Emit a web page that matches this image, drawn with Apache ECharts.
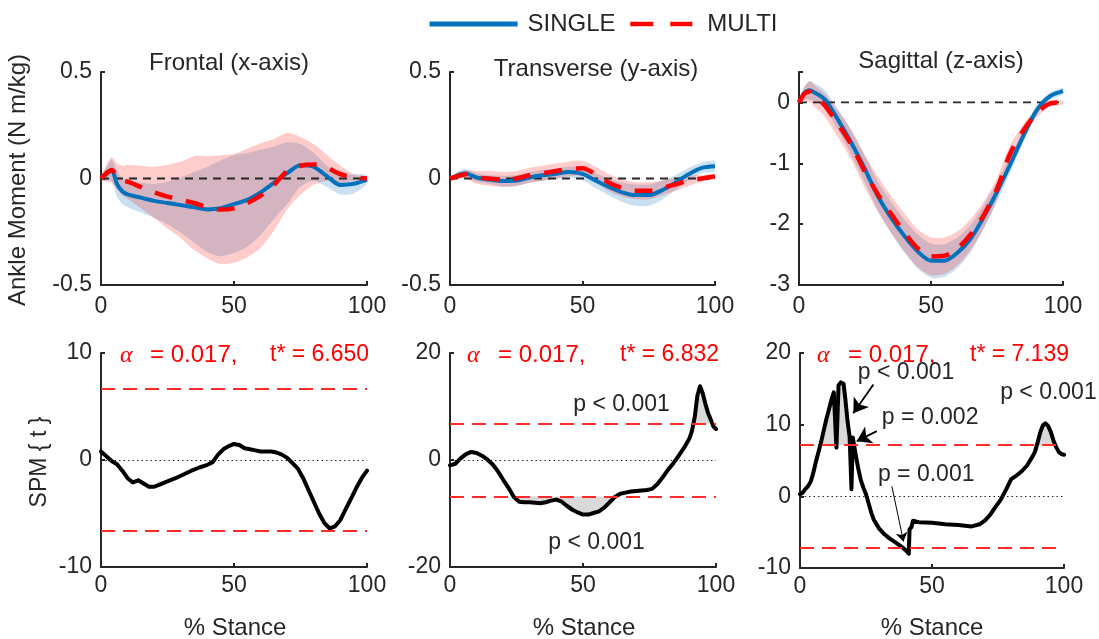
<!DOCTYPE html>
<html><head><meta charset="utf-8">
<script src="https://cdn.jsdelivr.net/npm/echarts@6/dist/echarts.min.js"></script>
<style>html,body{margin:0;padding:0;background:#fff}#c{width:1099px;height:639px}</style>
</head><body><div id="c"></div>
<script>
// ---------- data ----------
const stance = [0,2,4,6,8,10,15,20,25,30,35,40,45,50,55,60,65,70,75,80,85,90,95,100];

const frontalSingle   = [0,0.02,0.038,-0.025,-0.06,-0.075,-0.09,-0.105,-0.115,-0.125,-0.135,-0.145,-0.14,-0.12,-0.1,-0.065,-0.02,0.025,0.062,0.055,0.01,-0.03,-0.025,-0.005];
const frontalSingleSD = [0.01,0.03,0.05,0.06,0.06,0.06,0.07,0.08,0.1,0.13,0.165,0.2,0.225,0.23,0.22,0.2,0.17,0.145,0.1,0.065,0.05,0.045,0.045,0.02];
const frontalMulti    = [0,0.025,0.04,0.01,-0.01,-0.015,-0.04,-0.065,-0.085,-0.1,-0.115,-0.135,-0.146,-0.14,-0.115,-0.08,-0.03,0.035,0.06,0.066,0.05,0.02,0.005,0];
const frontalMultiSD  = [0,0.04,0.06,0.06,0.07,0.08,0.1,0.12,0.15,0.18,0.22,0.24,0.255,0.255,0.255,0.245,0.215,0.18,0.135,0.095,0.06,0.04,0.015,0.005];

const transSingle   = [0,0.01,0.02,0.023,0.015,0.005,-0.005,-0.012,-0.01,0.005,0.015,0.022,0.03,0.022,-0.01,-0.04,-0.065,-0.078,-0.078,-0.055,-0.02,0.02,0.05,0.058];
const transSingleSD = [0.01,0.015,0.02,0.02,0.02,0.02,0.02,0.025,0.025,0.025,0.025,0.025,0.025,0.03,0.035,0.04,0.045,0.05,0.05,0.045,0.035,0.03,0.025,0.025];
const transMulti    = [0,0.008,0.015,0.02,0.012,0.005,0,-0.005,0,0.015,0.025,0.035,0.045,0.048,0.02,-0.02,-0.045,-0.058,-0.058,-0.045,-0.028,-0.01,0,0.01];
const transMultiSD  = [0.005,0.01,0.015,0.02,0.025,0.03,0.035,0.035,0.035,0.035,0.035,0.035,0.035,0.035,0.035,0.04,0.04,0.04,0.04,0.035,0.03,0.025,0.015,0.01];

const sagSingle   = [0,0.15,0.2,0.16,0.11,0.04,-0.3,-0.68,-1.1,-1.55,-1.9,-2.2,-2.45,-2.6,-2.6,-2.47,-2.24,-1.88,-1.47,-1.02,-0.55,-0.13,0.1,0.185];
const sagSingleSD = [0.02,0.1,0.15,0.15,0.15,0.15,0.17,0.2,0.22,0.24,0.26,0.27,0.28,0.28,0.27,0.25,0.22,0.19,0.16,0.13,0.1,0.08,0.06,0.05];
const sagMulti    = [0,0.14,0.18,0.1,0.03,-0.06,-0.37,-0.71,-1.14,-1.52,-1.84,-2.14,-2.4,-2.53,-2.52,-2.4,-2.17,-1.85,-1.42,-0.84,-0.46,-0.18,-0.02,0];
const sagMultiSD  = [0.02,0.12,0.17,0.18,0.18,0.19,0.22,0.25,0.27,0.29,0.3,0.31,0.31,0.31,0.3,0.28,0.25,0.22,0.18,0.14,0.1,0.07,0.05,0.03];

const spmFrontalX = [0,2,4,6,8,10,12,14,16,18,20,22,25,28,31,34,37,40,42,44,46,48,50,52,54,56,58,60,62,64,66,68,70,72,74,76,78,80,82,84,86,88,90,92,94,96,98,100];
const spmFrontalT = [0.8,0.35,-0.1,-0.4,-1.0,-1.7,-2.1,-1.9,-2.2,-2.5,-2.5,-2.3,-2.0,-1.7,-1.35,-1.0,-0.7,-0.45,-0.2,0.5,1.0,1.3,1.5,1.4,1.1,1.0,0.9,0.8,0.8,0.8,0.7,0.5,0.2,-0.3,-0.8,-1.7,-2.8,-3.9,-5.0,-5.9,-6.4,-6.2,-5.6,-4.6,-3.6,-2.6,-1.7,-1.0];
const spmTransX = [0,2,4,6,8,10,12,14,16,18,20,22,24,26,28,30,32,34,36,38,40,42,44,46,48,50,52,54,56,58,60,62,64,66,68,70,72,74,76,78,80,82,84,86,88,90,91,92,93,94,95,96,97,98,99,100];
const spmTransT = [-1.0,-0.7,0.3,1.1,1.5,1.3,0.8,0.1,-0.8,-2.1,-3.7,-5.2,-6.9,-7.8,-7.9,-7.9,-8.0,-8.1,-7.9,-7.6,-7.4,-7.8,-8.6,-9.3,-9.8,-10.2,-10.2,-9.9,-9.6,-8.9,-7.9,-6.9,-6.3,-6.1,-5.9,-5.8,-5.7,-5.6,-5.4,-4.5,-3.2,-1.8,-0.6,0.8,2.3,4.0,5.5,8.0,12.0,13.8,12.5,10.5,8.8,7.6,6.3,5.8];
const spmSagX = [0,1,2,3,4,5,6,7,8,9,10,11,12,12.8,13.5,13.8,14.2,14.6,15.5,16.5,17.2,18.0,18.8,19.5,20.0,21,22,23,24,25,26,27,28,30,32,34,36,38,40,41.2,41.5,42.2,42.8,45,50,55,60,65,68,70,72,74,76,78,80,82,84,86,88,89,90,91,92,93,94,95,96,97,98,99,100];
const spmSagT = [0.3,0.5,1.0,1.4,2.0,3.2,4.8,6.2,7.6,9.2,10.8,12.2,13.6,14.5,14.6,6.8,6.8,15.5,15.9,15.7,13.5,10.5,8.3,1.0,8.2,6.0,4.0,2.3,1.2,0.3,-1.0,-2.3,-3.3,-4.5,-5.3,-5.9,-6.4,-6.9,-7.5,-8.0,-4.6,-4.3,-3.4,-3.6,-3.7,-3.9,-4.0,-4.2,-3.9,-3.4,-2.6,-1.5,-0.5,0.9,2.4,2.9,3.5,4.3,5.5,6.2,7.5,8.9,9.9,10.2,9.8,9.0,7.8,6.9,6.2,5.9,5.8];

const tStar = [6.650, 6.832, 7.139];
const alphaText = '= 0.017,';
const panelTitles = ['Frontal (x-axis)','Transverse (y-axis)','Sagittal (z-axis)'];
const seriesNames = ['SINGLE','MULTI'];
const xTicks = [0, 100, 50];                       // min, max, interval
const yTicks = [[-0.5,0.5,0.5],[-0.5,0.5,0.5],[-3,0.5,1],[-10,10,10],[-20,20,20],[-10,20,10]];
const transNotes = [{text:'p < 0.001', at:[64.5,10.3]},{text:'p < 0.001', at:[55.1,-15.5]}];
const sagNotes = [{text:'p < 0.001', at:[40.2,17.2]},{text:'p = 0.002', at:[49.3,11.0]},{text:'p = 0.001', at:[47.8,3.0]},{text:'p < 0.001', at:[94.1,14.5]}];
const sagArrows = [[[27.8,15.6],[20.2,11.6],1.8,14],[[29.1,9.1],[21.5,7.7],1.8,14],[[34.8,1.4],[39.2,-6.3],1,9]];

// ---------- layout / style ----------
const FONT = '"Liberation Sans", Arial, Helvetica, sans-serif';
const INK = '#262626';
const BLUE = '#0072BD', RED = '#FF0000';
const grids = [
  {left:101, top:72, width:266, height:213},
  {left:450, top:72, width:265, height:213},
  {left:799, top:72, width:264, height:213},
  {left:101, top:353, width:266, height:214},
  {left:450, top:353, width:266, height:214},
  {left:800, top:353, width:264, height:215}
];

const xAxis = grids.map((g,i)=>({
  type:'value', gridIndex:i, min:xTicks[0], max:xTicks[1], interval:xTicks[2],
  axisLine:{show:true,onZero:false,lineStyle:{color:INK,width:2}},
  axisTick:{show:true,inside:true,length:4,lineStyle:{color:INK,width:2}},
  axisLabel:{fontSize:23,color:INK,fontFamily:FONT,margin:i<3?10:7},
  splitLine:{show:false}
}));
const yAxis = grids.map((g,i)=>({
  type:'value', gridIndex:i, min:yTicks[i][0], max:yTicks[i][1], interval:yTicks[i][2],
  axisLine:{show:true,onZero:false,lineStyle:{color:INK,width:2}},
  axisTick:{show:true,inside:true,length:4,lineStyle:{color:INK,width:2}},
  axisLabel:{fontSize:23,color:INK,fontFamily:FONT,margin:9,
    formatter:v=> (i===2 && v>0) ? '' : String(v)},
  splitLine:{show:false}
}));

const series = [];
function flat(i, y, color, width, dash, z){
  series.push({type:'line', xAxisIndex:i, yAxisIndex:i, data:[[0,y],[100,y]], symbol:'none', silent:true, z:z||2,
    itemStyle:{color:color}, lineStyle:{color:color,width:width,type:dash}});
}
function band(i, mean, sd, fill){
  const pts = stance.map((x,k)=>[x, mean[k]-sd[k], mean[k]+sd[k]]);
  series.push({type:'custom', xAxisIndex:i, yAxisIndex:i, data:pts, silent:true, clip:true,
    encode:{x:0, y:[1,2]},
    renderItem:(params, api)=>{
      if (params.dataIndex !== 0) return;
      const up = pts.map(p=>api.coord([p[0],p[2]]));
      const dn = pts.map(p=>api.coord([p[0],p[1]])).reverse();
      return {type:'polygon', shape:{points:up.concat(dn), smooth:0.25}, style:{fill:fill, stroke:null}};
    }});
}
function meanLine(i, mean, name, color, dash, width){
  series.push({type:'line', name:name, xAxisIndex:i, yAxisIndex:i, data:stance.map((x,k)=>[x,mean[k]]), symbol:'none', smooth:0.3,
    itemStyle:{color:color}, lineStyle:{color:color,width:width,type:dash,cap:'butt'}});
}
const topSets = [
  [frontalSingle,frontalSingleSD,frontalMulti,frontalMultiSD],
  [transSingle,transSingleSD,transMulti,transMultiSD],
  [sagSingle,sagSingleSD,sagMulti,sagMultiSD]
];
topSets.forEach((s,i)=>{
  flat(i, 0, INK, 1.8, [8,6]);
  band(i, s[0], s[1], 'rgba(0,114,189,0.21)');
  meanLine(i, s[0], seriesNames[0], BLUE, 'solid', 4);
  band(i, s[2], s[3], 'rgba(255,0,0,0.2)');
  meanLine(i, s[2], seriesNames[1], RED, [18,14], 4.5);
});

const spmSets = [[spmFrontalX,spmFrontalT],[spmTransX,spmTransT],[spmSagX,spmSagT]];
spmSets.forEach((s,j)=>{
  const i = j+3, thr = tStar[j];
  const xs = s[0], ts = s[1];
  // shaded supra-threshold clusters (polygon between curve and threshold, through the axes)
  [[thr, 1],[-thr,-1]].forEach(([lvl,sgn])=>{
    const pts = xs.map((x,k)=>[x, sgn>0 ? Math.max(ts[k],lvl) : Math.min(ts[k],lvl)]);
    series.push({type:'custom', xAxisIndex:i, yAxisIndex:i, data:pts, silent:true, clip:true, z:2,
      encode:{x:0,y:1},
      renderItem:(params, api)=>{
        if (params.dataIndex !== 0) return;
        const top = pts.map(p=>api.coord(p));
        const base = [api.coord([xs[xs.length-1], lvl]), api.coord([xs[0], lvl])];
        return {type:'polygon', shape:{points:top.concat(base)}, style:{fill:'#d9d9d9', stroke:null}};
      }});
  });
  // reference lines
  series.push({type:'line', xAxisIndex:i, yAxisIndex:i, data:[], silent:true, z:3,
    markLine:{silent:true, symbol:'none', label:{show:false}, animation:false,
      data:[
        {yAxis:thr, lineStyle:{color:'#ff2a2a', width:1.8, type:[14,8], opacity:1}},
        {yAxis:-thr, lineStyle:{color:'#ff2a2a', width:1.8, type:[14,8], opacity:1}},
        {yAxis:0, lineStyle:{color:INK, width:1, type:[1.5,3], opacity:1}}
      ]}});
  const curve = {type:'line', xAxisIndex:i, yAxisIndex:i, data:xs.map((x,k)=>[x,ts[k]]), symbol:'none', z:4,
    itemStyle:{color:'#000'}, lineStyle:{color:'#000',width:4,join:'round',cap:'round'}};
  const notes = j===1 ? transNotes : (j===2 ? sagNotes : []);
  if (notes.length){
    curve.markPoint = {silent:true, symbol:'circle', symbolSize:1, itemStyle:{color:'rgba(0,0,0,0)'},
      label:{show:true, position:'inside', color:INK, fontSize:23, fontFamily:FONT, formatter:'{b}'},
      data:notes.map(n=>({name:n.text, coord:n.at}))};
  }
  if (j===2){
    curve.markLine = {silent:true, symbol:['none','arrow'], label:{show:false},
      lineStyle:{color:'#000',type:'solid',width:1.5},
      data:sagArrows.map(a=>[{coord:a[0], symbolSize:[0,a[3]], lineStyle:{width:a[2],color:'#000',type:'solid'}},{coord:a[1], symbolSize:a[3]}])};
  }
  series.push(curve);
});

const T = (text,x,y,extra)=>Object.assign({type:'text', x:x, y:y, silent:true,
  style:Object.assign({text:text, fill:INK, font:'23px '+FONT, align:'center', verticalAlign:'middle'}, (extra&&extra.style)||{})},
  extra && extra.rot ? {rotation:extra.rot} : {});
const graphic = [
  T(panelTitles[0], 229, 63, {style:{font:'24px '+FONT}}),
  T(panelTitles[1], 596, 69, {style:{font:'24px '+FONT}}),
  T(panelTitles[2], 941, 61, {style:{font:'24px '+FONT}}),
  T('Ankle Moment (N m/kg)', 18, 180, {rot:Math.PI/2, style:{font:'24px '+FONT}}),
  T('SPM { t }', 40, 462, {rot:Math.PI/2, style:{font:'23px '+FONT}}),
  T('% Stance', 235, 628, {style:{font:'24px '+FONT}}),
  T('% Stance', 584, 628, {style:{font:'24px '+FONT}}),
  T('% Stance', 932, 628, {style:{font:'24px '+FONT}})
];
[[120,150,270],[467,498,620],[817,848,970]].forEach((p,j)=>{
  graphic.push(T('α', p[0], 356, {style:{fill:RED, align:'left', font:'italic 24px "Liberation Serif", "DejaVu Serif", serif'}}));
  graphic.push(T(alphaText, p[1], 355, {style:{fill:RED, align:'left', font:'24px '+FONT}}));
  graphic.push(T('t* = ' + tStar[j].toFixed(3), p[2], 355, {style:{fill:RED, align:'left'}}));
});

const option = {
  animation:false,
  backgroundColor:'#fff',
  grid:grids,
  xAxis:xAxis,
  yAxis:yAxis,
  legend:[
    {data:[seriesNames[0]], left:427, top:12, padding:0, itemWidth:88, itemHeight:14, selectedMode:false,
     itemStyle:{opacity:0}, lineStyle:{width:5}, textStyle:{fontSize:24,color:INK,fontFamily:FONT,padding:[0,0,0,5]}},
    {data:[seriesNames[1]], left:628, top:12, padding:0, itemWidth:62, itemHeight:14, selectedMode:false,
     itemStyle:{opacity:0}, lineStyle:{type:[23,17],width:4.5}, textStyle:{fontSize:24,color:INK,fontFamily:FONT,padding:[0,0,0,10]}}
  ],
  graphic:graphic,
  series:series
};
const chart = echarts.init(document.getElementById('c'));
chart.setOption(option);
</script></body></html>
